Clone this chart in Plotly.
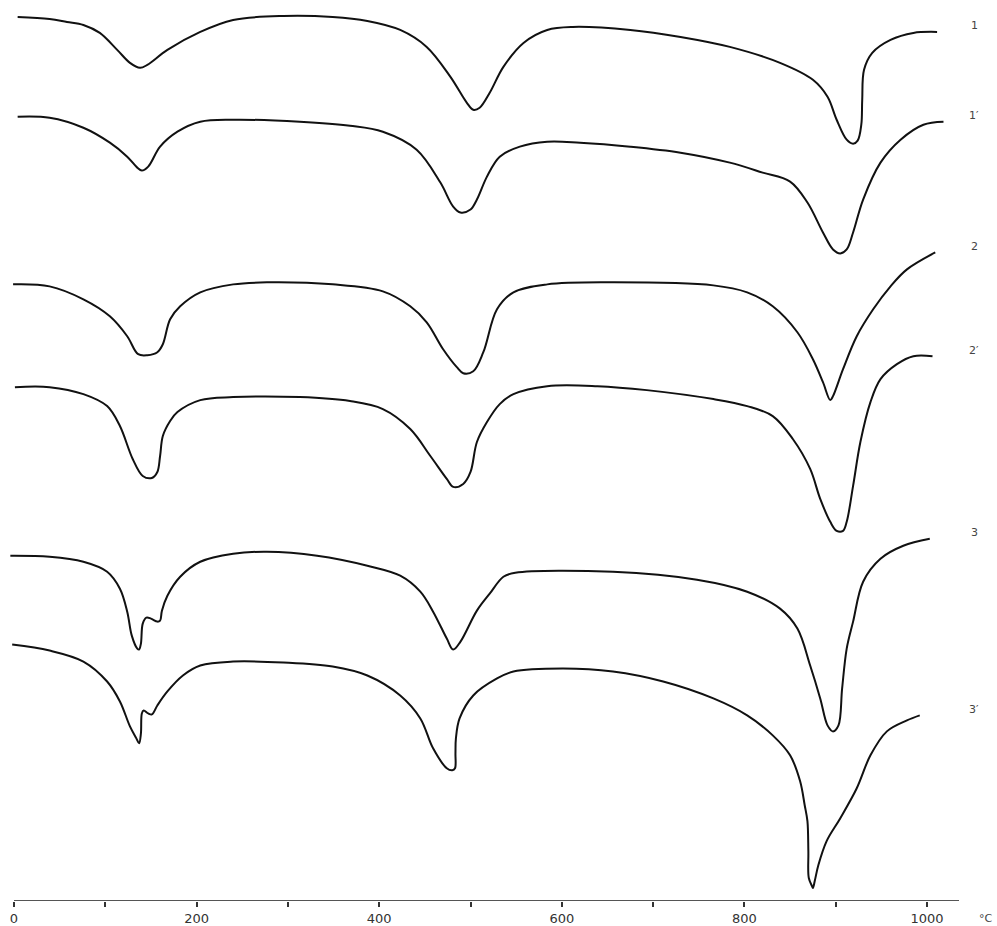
import plotly.graph_objects as go

# Temperatures (deg C) and DTA deflections (arbitrary units, up = exo)
T1 = [4, 39, 58, 76, 94, 113, 127, 138, 146, 168, 204, 240, 295, 349, 387, 423, 452, 478, 496, 503,
      510, 521, 536, 558, 584, 612, 675, 730, 784, 839, 875, 891, 901, 912, 919, 924, 928, 929, 931, 940,
      960, 985, 1011]
Y1 = [886, 884, 881, 878, 870, 853, 840, 835, 838, 853, 871, 883, 887, 886, 882, 873, 856, 826, 800, 793,
      795, 810, 836, 860, 873, 876, 873, 866, 856, 840, 823, 806, 783, 763, 759, 762, 778, 803, 833, 850,
      863, 870, 871]

T1p = [4, 39, 76, 105, 124, 135, 140, 147, 160, 179, 204, 240, 313, 368, 404, 441, 467, 481, 489, 500,
       507, 518, 532, 554, 584, 620, 675, 730, 784, 820, 850, 869, 886, 897, 905, 912, 919, 930, 949, 971,
       996, 1018]
Y1p = [786, 785, 775, 760, 746, 735, 732, 736, 756, 771, 781, 783, 781, 777, 771, 753, 720, 696, 690, 693,
       703, 726, 746, 756, 761, 760, 756, 750, 740, 730, 721, 700, 670, 653, 649, 653, 670, 703, 740, 763,
       778, 781]

T2 = [-1, 39, 76, 105, 124, 136, 146, 157, 163, 171, 182, 204, 240, 277, 349, 404, 434, 452, 470, 485,
      492, 503, 514, 529, 547, 584, 656, 766, 803, 831, 858, 875, 886, 894, 897, 908, 923, 941, 960, 978,
      1009]
Y2 = [618, 616, 603, 586, 566, 548, 547, 550, 558, 583, 596, 610, 618, 620, 618, 611, 596, 580, 553, 535,
      529, 531, 550, 593, 610, 618, 620, 617, 610, 596, 570, 543, 520, 502, 506, 533, 566, 593, 616, 633,
      650]

T2p = [1, 39, 76, 102, 116, 130, 141, 151, 157, 160, 163, 171, 179, 204, 240, 313, 368, 404, 434, 456,
       474, 481, 492, 500, 507, 518, 532, 547, 584, 639, 693, 766, 803, 831, 853, 872, 883, 894, 901, 908,
       912, 919, 927, 938, 949, 967, 985, 1006]
Y2p = [515, 515, 508, 496, 476, 443, 426, 424, 430, 446, 466, 481, 490, 502, 505, 505, 501, 493, 473, 446,
       423, 415, 418, 430, 460, 480, 498, 508, 516, 516, 512, 503, 496, 486, 463, 433, 403, 380, 371, 371,
       380, 416, 460, 500, 523, 538, 546, 546]

T3 = [-4, 39, 76, 102, 116, 124, 129, 135, 137, 139, 141, 145, 150, 157, 160, 162, 168, 182, 204, 240,
      277, 332, 387, 423, 445, 459, 474, 481, 489, 507, 521, 536, 549, 656, 748, 803, 839, 858, 872, 883,
      891, 897, 903, 907, 912, 919, 930, 949, 974, 1003]
Y3 = [346, 345, 340, 330, 313, 290, 266, 253, 252, 258, 278, 284, 283, 280, 281, 291, 306, 325, 340, 348,
      350, 346, 336, 326, 310, 290, 263, 252, 260, 291, 308, 325, 329, 330, 322, 310, 293, 273, 236, 203,
      176, 170, 176, 213, 253, 280, 320, 343, 356, 363]

T3p = [-2, 39, 76, 102, 116, 127, 134, 137, 139, 140, 142, 147, 151, 157, 168, 185, 204, 240, 295, 349,
       387, 423, 445, 459, 474, 480, 483, 483.5, 484, 488, 503, 529, 547, 601, 656, 711, 766, 803, 831, 850,
       861, 866, 869, 870, 870.5, 874, 875, 877, 881, 890, 905, 923, 938, 956, 978, 992]
Y3p = [257, 251, 240, 220, 200, 175, 163, 158, 168, 188, 191, 188, 187, 196, 210, 226, 236, 240, 239, 235,
       226, 206, 183, 153, 133, 131, 133, 148, 163, 183, 206, 223, 230, 233, 230, 220, 203, 186, 166, 146,
       120, 96, 80, 50, 23, 15, 13, 20, 36, 60, 83, 113, 146, 170, 181, 186]

series = [("1", T1, Y1), ("1′", T1p, Y1p), ("2", T2, Y2), ("2′", T2p, Y2p), ("3", T3, Y3), ("3′", T3p, Y3p)]

tick_vals = [0, 200, 400, 600, 800, 1000]
tick_text = ["0", "200", "400", "600", "800", "1000"]

fig = go.Figure()
for name, xs, ys in series:
    fig.add_trace(go.Scatter(x=xs, y=ys, mode="lines", name=name,
                             line=dict(color="#111111", width=2, shape="spline", smoothing=1.0),
                             showlegend=False, hoverinfo="skip"))
    fig.add_annotation(x=1.0, xref="paper", xshift=15, y=ys[-1], yref="y", yshift=6,
                       text=name, showarrow=False, xanchor="center",
                       font=dict(family="DejaVu Sans", size=11, color="#444444"))

# axis line
fig.add_shape(type="line", x0=0, x1=1035, y0=0, y1=0, xref="x", yref="y",
              line=dict(color="#555555", width=2))

fig.add_annotation(x=1.0, xref="paper", xshift=27, y=0, yref="paper", yshift=-17,
                   text="°C", showarrow=False, xanchor="center", yanchor="middle",
                   font=dict(family="DejaVu Sans", size=11, color="#444444"))

fig.update_layout(
    width=997, height=926,
    margin=dict(l=5, r=38, t=0, b=23),
    paper_bgcolor="white", plot_bgcolor="white",
    xaxis=dict(range=[-9.86, 1035.0], showgrid=False, zeroline=False, showline=False,
               tickmode="array", tickvals=tick_vals, ticktext=tick_text,
               ticks="outside", ticklen=5, tickwidth=2, tickcolor="#333333",
               minor=dict(dtick=100, tick0=0, ticks="outside", ticklen=5, tickwidth=2, tickcolor="#333333"),
               tickfont=dict(family="DejaVu Sans", size=13, color="#333333")),
    yaxis=dict(range=[0, 903], visible=False),
)

fig.write_html("out.html")
